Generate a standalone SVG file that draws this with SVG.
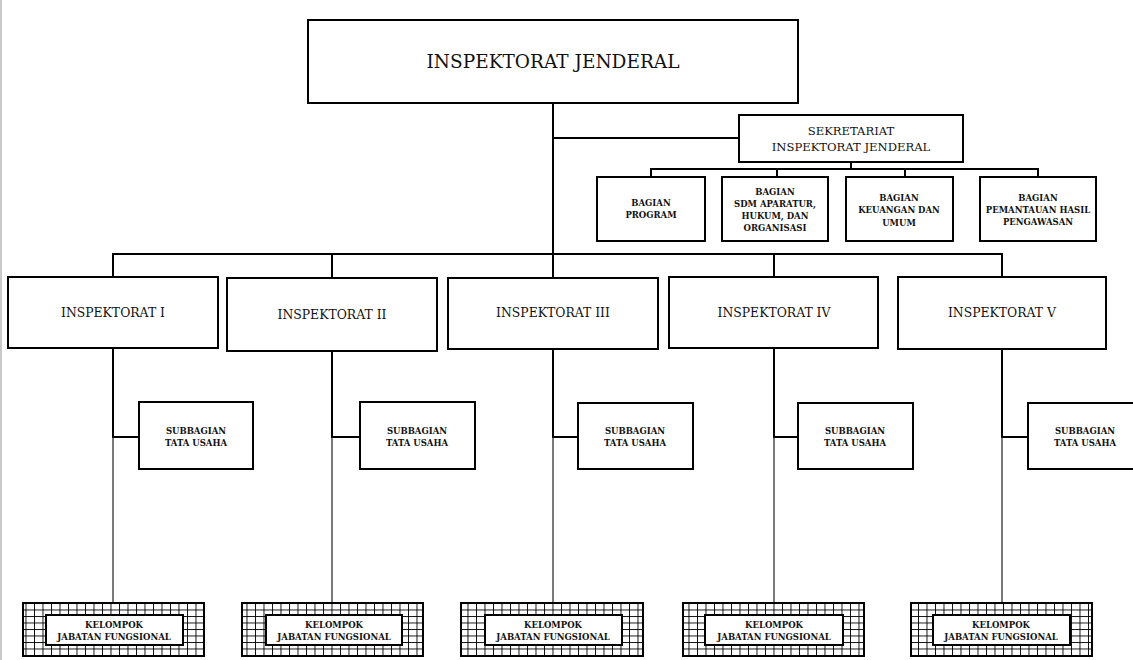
<svg xmlns="http://www.w3.org/2000/svg" width="1133" height="660" viewBox="0 0 1133 660">
<style>
.box{fill:#fff;stroke:#000;stroke-width:2}
.ln{fill:none;stroke:#000;stroke-width:2}
.thin{fill:none;stroke:#222;stroke-width:1.2}
text{font-family:"DejaVu Serif","Liberation Serif",serif;fill:#111;text-anchor:middle}
.t1{font-size:18.5px}
.t2{font-size:11.6px}
.t3{font-size:12.4px}
.sm{font-size:8.5px;font-weight:bold}
</style>
<defs>
<pattern id="grid" patternUnits="userSpaceOnUse" x="0" y="603" width="8.5" height="6.5">
<rect width="8.5" height="6.5" fill="#fff"/>
<path d="M0.5 0V6.5M0 0.5H8.5" stroke="#000" stroke-width="0.9"/>
</pattern>
</defs>
<rect width="1133" height="660" fill="#fff"/>
<line x1="1" y1="0" x2="1" y2="660" stroke="#c8c8c8" stroke-width="2"/>

<g id="connectors">
<path class="ln" d="M553 103V278"/>
<path class="ln" d="M553 138H739"/>
<path class="ln" d="M851 162V169"/>
<path class="ln" d="M651 177V169H1038V177M777 169V177M905 169V177"/>
<path class="ln" d="M113 277V254H1002V277M332 254V278M774 254V277"/>
<path class="ln" d="M113 348V437H139M332 351V437H360M553 349V437H578M774 348V437H798M1002 349V437H1028"/>
<path class="thin" d="M113 437V603M332 437V603M553 437V603M774 437V603M1002 437V603"/>
</g>

<g id="inspektorat-jenderal">
<rect class="box" x="308" y="20" width="490" height="83"/>
<text class="t1" x="553" y="68">INSPEKTORAT JENDERAL</text>
</g>

<g id="sekretariat">
<rect class="box" x="739" y="115" width="224" height="47"/>
<text class="t2" x="851" y="135">SEKRETARIAT</text>
<text class="t2" x="851" y="151">INSPEKTORAT JENDERAL</text>
</g>

<g id="bagian-program">
<rect class="box" x="597" y="177" width="108" height="64"/>
<text class="sm" x="651" y="206">BAGIAN</text>
<text class="sm" x="651" y="218">PROGRAM</text>
</g>
<g id="bagian-sdm">
<rect class="box" x="722" y="177" width="106" height="64"/>
<text class="sm" x="775" y="195">BAGIAN</text>
<text class="sm" x="775" y="207">SDM APARATUR,</text>
<text class="sm" x="775" y="219">HUKUM, DAN</text>
<text class="sm" x="775" y="231">ORGANISASI</text>
</g>
<g id="bagian-keuangan">
<rect class="box" x="846" y="177" width="107" height="64"/>
<text class="sm" x="899" y="201">BAGIAN</text>
<text class="sm" x="899" y="213">KEUANGAN DAN</text>
<text class="sm" x="899" y="226">UMUM</text>
</g>
<g id="bagian-pemantauan">
<rect class="box" x="980" y="177" width="116" height="64"/>
<text class="sm" x="1038" y="201">BAGIAN</text>
<text class="sm" x="1038" y="213">PEMANTAUAN HASIL</text>
<text class="sm" x="1038" y="225">PENGAWASAN</text>
</g>

<g id="inspektorat-1">
<rect class="box" x="8" y="277" width="210" height="71"/>
<text class="t3" x="113" y="317">INSPEKTORAT I</text>
</g>
<g id="inspektorat-2">
<rect class="box" x="227" y="278" width="210" height="73"/>
<text class="t3" x="332" y="319">INSPEKTORAT II</text>
</g>
<g id="inspektorat-3">
<rect class="box" x="448" y="278" width="210" height="71"/>
<text class="t3" x="553" y="317">INSPEKTORAT III</text>
</g>
<g id="inspektorat-4">
<rect class="box" x="669" y="277" width="209" height="71"/>
<text class="t3" x="774" y="317">INSPEKTORAT IV</text>
</g>
<g id="inspektorat-5">
<rect class="box" x="898" y="277" width="208" height="72"/>
<text class="t3" x="1002" y="317">INSPEKTORAT V</text>
</g>

<g id="subbagian-1">
<rect class="box" x="139" y="402" width="114" height="67"/>
<text class="sm" x="196" y="434">SUBBAGIAN</text>
<text class="sm" x="196" y="446">TATA USAHA</text>
</g>
<g id="subbagian-2">
<rect class="box" x="360" y="402" width="115" height="67"/>
<text class="sm" x="417" y="434">SUBBAGIAN</text>
<text class="sm" x="417" y="446">TATA USAHA</text>
</g>
<g id="subbagian-3">
<rect class="box" x="578" y="403" width="115" height="66"/>
<text class="sm" x="635" y="434">SUBBAGIAN</text>
<text class="sm" x="635" y="446">TATA USAHA</text>
</g>
<g id="subbagian-4">
<rect class="box" x="798" y="403" width="115" height="66"/>
<text class="sm" x="855" y="434">SUBBAGIAN</text>
<text class="sm" x="855" y="446">TATA USAHA</text>
</g>
<g id="subbagian-5">
<rect class="box" x="1028" y="403" width="115" height="66"/>
<text class="sm" x="1085" y="434">SUBBAGIAN</text>
<text class="sm" x="1085" y="446">TATA USAHA</text>
</g>

<g id="kelompok-1">
<rect class="box" x="23" y="603" width="181" height="53" style="fill:url(#grid)"/>
<rect class="box" x="46" y="615" width="137" height="30"/>
<text class="sm" x="114" y="628">KELOMPOK</text>
<text class="sm" x="114" y="640">JABATAN FUNGSIONAL</text>
</g>
<g id="kelompok-2">
<rect class="box" x="242" y="603" width="181" height="53" style="fill:url(#grid)"/>
<rect class="box" x="266" y="615" width="136" height="30"/>
<text class="sm" x="334" y="628">KELOMPOK</text>
<text class="sm" x="334" y="640">JABATAN FUNGSIONAL</text>
</g>
<g id="kelompok-3">
<rect class="box" x="461" y="603" width="182" height="53" style="fill:url(#grid)"/>
<rect class="box" x="485" y="615" width="137" height="30"/>
<text class="sm" x="553" y="628">KELOMPOK</text>
<text class="sm" x="553" y="640">JABATAN FUNGSIONAL</text>
</g>
<g id="kelompok-4">
<rect class="box" x="683" y="603" width="181" height="53" style="fill:url(#grid)"/>
<rect class="box" x="705" y="615" width="138" height="30"/>
<text class="sm" x="774" y="628">KELOMPOK</text>
<text class="sm" x="774" y="640">JABATAN FUNGSIONAL</text>
</g>
<g id="kelompok-5">
<rect class="box" x="911" y="603" width="181" height="53" style="fill:url(#grid)"/>
<rect class="box" x="933" y="615" width="137" height="30"/>
<text class="sm" x="1001" y="628">KELOMPOK</text>
<text class="sm" x="1001" y="640">JABATAN FUNGSIONAL</text>
</g>
</svg>
